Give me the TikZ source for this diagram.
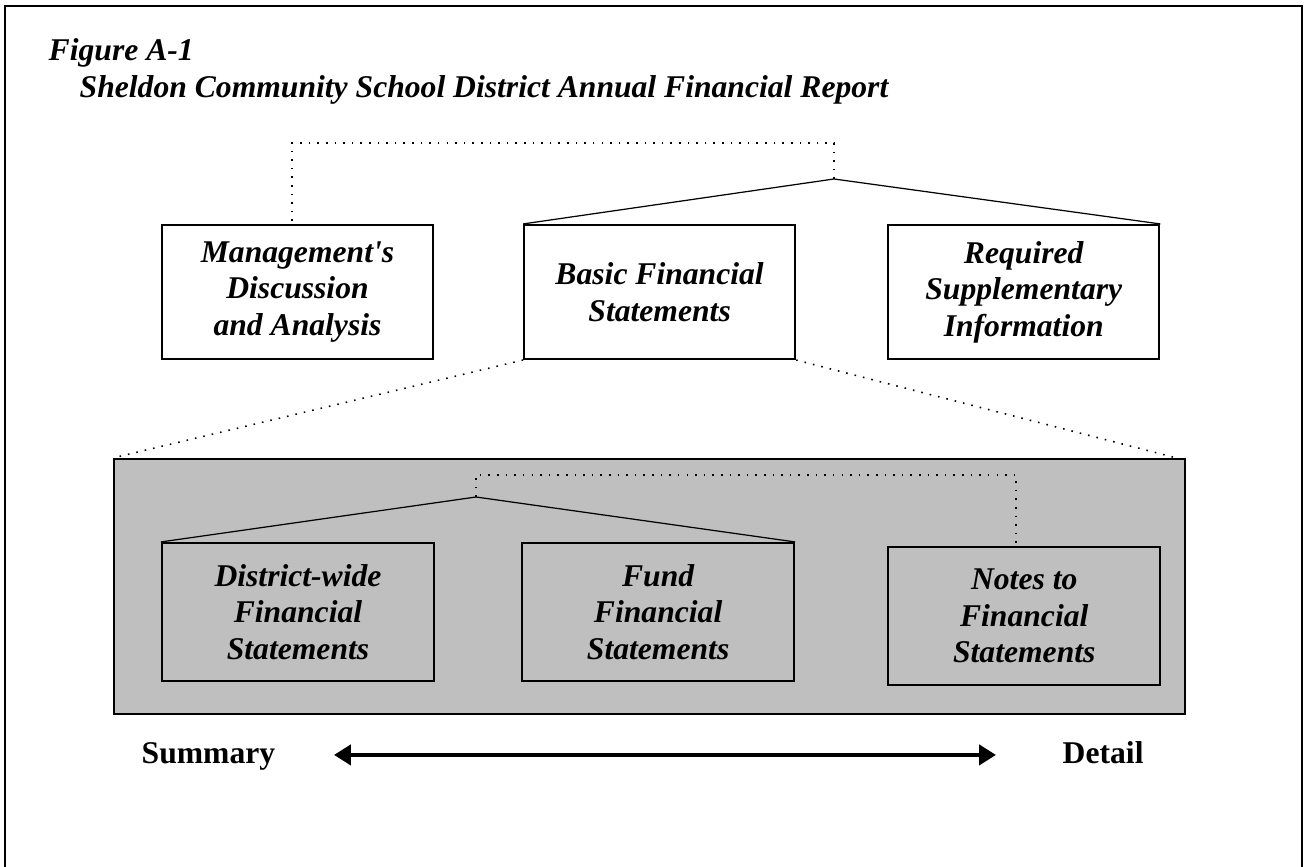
\documentclass[tikz,border=0pt]{standalone}
\usepackage{fontspec}
\setmainfont{Liberation Serif}[Ligatures=TeXOff]
\usepackage{tikz}
\usetikzlibrary{positioning,arrows.meta}

\begin{document}
\begin{tikzpicture}[
        box/.style={draw,line width=0.6pt,minimum width=2.71cm,minimum height=1.34cm,align=center,inner sep=0pt,font=\fontsize{9}{10.4}\selectfont\bfseries\itshape},
        lowbox/.style={box,minimum width=2.72cm,minimum height=1.38cm},
        caption/.style={anchor=base west,inner sep=0pt,font=\fontsize{9}{10}\selectfont\bfseries\itshape},
        endlabel/.style={anchor=base west,inner sep=0pt,font=\fontsize{9}{10}\selectfont\bfseries},
        link/.style={line width=0.35pt},
        dots/.style={line width=0.45pt,dotted}
    ]
        \useasboundingbox (0,0) rectangle (13.06,-8.67);
        \draw[line width=0.6pt] (0.05,-8.9) -- (0.05,-0.06) -- (13.02,-0.06) -- (13.02,-8.9);

        \node[caption] (fig) at (0.48,-0.61) {Figure A-1};
        \node[caption] (title) at (0.79,-0.98) {Sheldon Community School District Annual Financial Report};

        \node[box] (mda) at (2.975,-2.92) {Management's\\Discussion\\and Analysis};
        \node[box,right=0.89cm of mda] (bfs) {Basic Financial\\Statements};
        \node[box,right=0.91cm of bfs] (rsi) {Required\\Supplementary\\Information};

        \node[draw,fill=black!25,line width=0.6pt,minimum width=10.71cm,minimum height=2.55cm,inner sep=0pt] (basic) at (6.495,-5.865) {};
        \node[lowbox] (district) at (2.98,-6.12) {District-wide\\Financial\\Statements};
        \node[lowbox,right=0.86cm of district] (fund) {Fund\\Financial\\Statements};
        \node[lowbox,right=0.92cm of fund,yshift=-0.04cm] (notes) {Notes to\\Financial\\Statements};

        \coordinate (top) at (8.34,-1.79);
        \coordinate (inner) at (4.76,-4.97);
        \draw[link] (bfs.north west) -- (top) -- (rsi.north east);
        \draw[dots] (top) -- ++(0,0.36) -| ([xshift=-0.055cm]mda.north);
        \draw[dots] (bfs.south west) -- (basic.north west);
        \draw[dots] (bfs.south east) -- ([xshift=0.02cm,yshift=-0.03cm]basic.north east);
        \draw[link] (district.north west) -- (inner) -- (fund.north east);
        \draw[dots] (inner) -- ++(0,0.22) -| ([xshift=-0.08cm]notes.north);

        \node[endlabel] (summary) at (1.41,-7.63) {Summary};
        \node[endlabel] (detail) at (10.62,-7.63) {Detail};
        \draw[line width=1.2pt,{Triangle[length=0.17cm,width=0.2cm]}-{Triangle[length=0.17cm,width=0.2cm]},shorten <=0.58cm,shorten >=0.66cm] (summary.mid east) -- (detail.mid west);
    \end{tikzpicture}
\end{document}
